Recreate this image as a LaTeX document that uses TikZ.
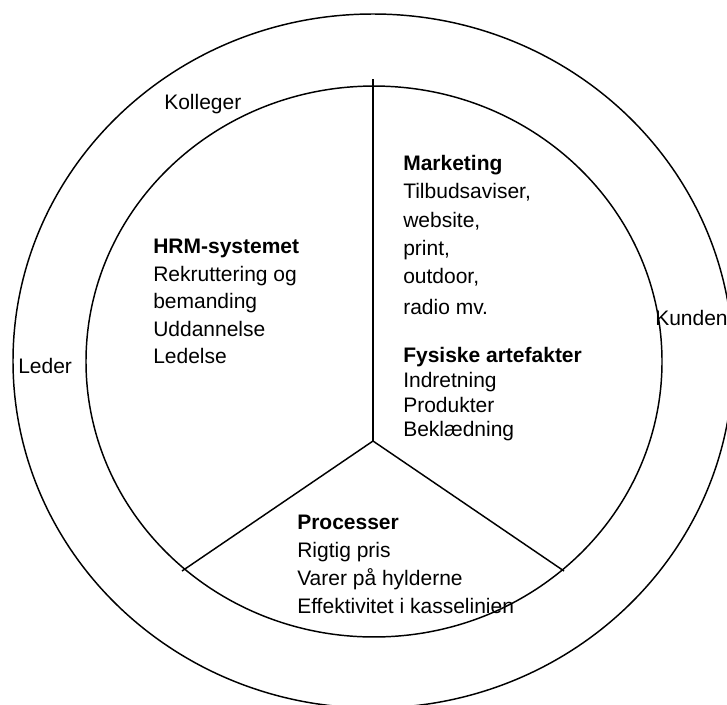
\documentclass[tikz,border=0pt]{standalone}
\usepackage{fontspec}
\setmainfont{Liberation Sans}
\begin{document}
\begin{tikzpicture}[x=0.75pt,y=-0.75pt,
  ring/.style={draw=black,line width=1.1pt},
  spoke/.style={draw=black,line width=1.1pt},
  txt/.style={anchor=base west,inner sep=0pt,font=\fontsize{15.75}{18}\selectfont},
  head/.style={txt,font=\fontsize{15.75}{18}\selectfont\bfseries}]
\useasboundingbox (0,0) rectangle (727,704);
\clip (0,0) rectangle (727,704);
\fill[white] (0,0) rectangle (727,704);
% rings
\draw[ring] (373,361) ellipse [x radius=270pt, y radius=260.25pt];
\draw[ring] (374,361.5) ellipse [x radius=216pt, y radius=206.6pt];
% spokes
\coordinate (hub) at (373,441);
\coordinate (ptop) at (373,79);
\coordinate (pleft) at (182,571);
\coordinate (pright) at (564,571);
\draw[spoke] (hub) -- (ptop);
\draw[spoke] (hub) -- (pleft);
\draw[spoke] (hub) -- (pright);
% outer labels
\node[txt] (kolleger) at (164,109) {Kolleger};
\node[txt] (leder) at (18,373) {Leder};
\node[txt] (kunden) at (655,325) {Kunden};
% HRM
\node[head] (hrm) at (153,253) {HRM-systemet};
\node[txt] (hrm1) at (153,281) {Rekruttering og};
\node[txt] (hrm2) at (153,308) {bemanding};
\node[txt] (hrm3) at (153,336) {Uddannelse};
\node[txt] (hrm4) at (153,363) {Ledelse};
% Marketing
\node[head] (mkt) at (403,170) {Marketing};
\node[txt] (mkt1) at (403,198) {Tilbudsaviser,};
\node[txt] (mkt2) at (403,227) {website,};
\node[txt] (mkt3) at (403,255) {print,};
\node[txt] (mkt4) at (403,283) {outdoor,};
\node[txt] (mkt5) at (403,314) {radio mv.};
% Fysiske artefakter
\node[head] (fys) at (403,362) {Fysiske artefakter};
\node[txt] (fys1) at (403,387) {Indretning};
\node[txt] (fys2) at (403,412) {Produkter};
\node[txt] (fys3) at (403,436) {Beklædning};
% Processer
\node[head] (proc) at (297,529) {Processer};
\node[txt] (proc1) at (297,557) {Rigtig pris};
\node[txt] (proc2) at (297,585) {Varer på hylderne};
\node[txt] (proc3) at (297,613) {Effektivitet i kasselinien};
\end{tikzpicture}
\end{document}
